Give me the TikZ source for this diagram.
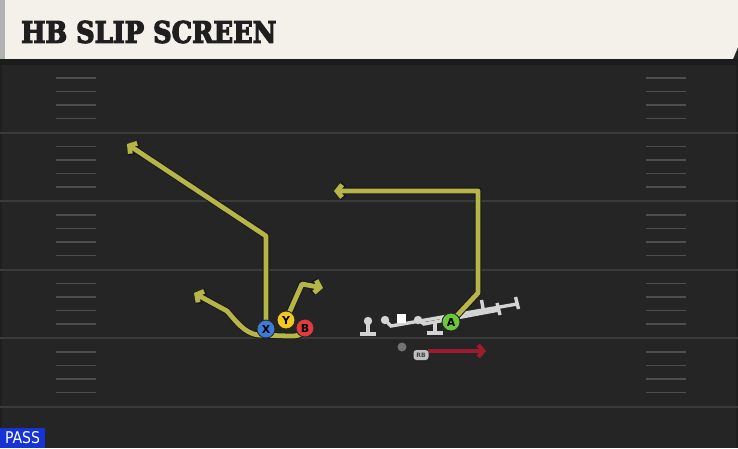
\documentclass[tikz,border=0pt]{standalone}
\usepackage{fontspec}
\setsansfont{DejaVu Sans}
\newfontfamily\playtitlefont{DejaVu Serif Condensed}[BoldFeatures={FakeBold=4}]
\usetikzlibrary{arrows.meta}

\definecolor{fieldbg}{HTML}{252525}
\definecolor{headcream}{HTML}{F4F1EB}
\definecolor{yardcol}{HTML}{3A3A3A}
\definecolor{routeyel}{HTML}{B5B548}
\definecolor{gearcol}{HTML}{D4D4D4}
\definecolor{xblue}{HTML}{3D7BD9}
\definecolor{yyellow}{HTML}{F2C81E}
\definecolor{bred}{HTML}{E13B3E}
\definecolor{agreen}{HTML}{6BC83A}
\definecolor{rbred}{HTML}{9B1B30}
\definecolor{passblue}{HTML}{1633D6}

\tikzset{
  yardline/.style={draw=yardcol, line width=2pt},
  hashmark/.style={draw=yardcol!90!white, line width=1.8pt},
  route/.style={draw=routeyel, line width=4.8pt, line join=round,
    -{Straight Barb[length=5pt, width=12.5pt]},
    preaction={draw=black!90, line width=6.8pt, -{Straight Barb[length=5.6pt, width=14pt]}}},
  player/.style={circle, draw=black!85, line width=0.9pt, minimum size=18pt, inner sep=0pt,
    font=\sffamily\bfseries\fontsize{11}{11}\selectfont},
  gear/.style={draw=gearcol, line width=3.4pt},
}

\begin{document}
\begin{tikzpicture}[x=1pt, y=-1pt]

  \newcommand\LINESTEP{68.5}
  \newcommand\FIELDTOP{64}

  \useasboundingbox (0,0) rectangle (738,448);
  \fill[fieldbg] (0,0) rectangle (738,448);

  % header
  \fill[headcream] (5,0) -- (738,0) -- (738,47) -- (733,59) -- (5,59) -- cycle;
  \fill[black!30] (0,0) rectangle (5,59);
  \fill[black!89] (0,59) rectangle (738,65);
  \node[anchor=west, inner sep=0pt, text=black!88] (title) at (21,32)
    {\resizebox{255pt}{22pt}{\playtitlefont\bfseries HB SLIP SCREEN}};

  % field
  \draw[black!20!fieldbg, line width=2pt] (1,65) -- (1,448);
  \draw[black!20!fieldbg, line width=2pt] (737,65) -- (737,448);
  \foreach \i in {1,...,5}
    \draw[yardline] (0,\FIELDTOP+\LINESTEP*\i) -- (738,\FIELDTOP+\LINESTEP*\i);
  \foreach \i in {0,...,4}
    \foreach \d in {14,27.5,41,54.5} {
      \draw[hashmark] (56,\FIELDTOP+\LINESTEP*\i+\d) -- (96,\FIELDTOP+\LINESTEP*\i+\d);
      \draw[hashmark] (646,\FIELDTOP+\LINESTEP*\i+\d) -- (686,\FIELDTOP+\LINESTEP*\i+\d);
    }

  \coordinate (x) at (266,329);
  \coordinate (y) at (286,320);
  \coordinate (b) at (305,328);
  \coordinate (a) at (451,322);

  % blocking line
  \draw[gear] (368,323) -- (368,333) (360,334) -- (376,334);
  \fill[gearcol] (368,321) circle (4.2pt);
  \draw[gear] (385,320) -- (391,326) -- (517,304) (515.5,297) -- (518.5,309);
  \draw[gear] (418,320) -- (424,324) -- (499,310) (497,303) -- (500,315);
  \draw[gear] (481.5,300) -- (483.5,311);
  \draw[gear] (435,322) -- (435,332) (427,333) -- (443,333);
  \fill[gearcol] (385,320) circle (4.2pt);
  \fill[gearcol] (418,320) circle (4.2pt);
  \fill[white] (397,314) rectangle (406,323);
  \fill[black!55] (402,347) circle (4.5pt);

  % routes
  \draw[route] (x) -- (266,236) -- (127,144);
  \draw[route] (b) .. controls (300,336) .. (288,336) -- (258,335)
    .. controls (244,333) and (236,321) .. (227,311) -- (194,293);
  \draw[route] (y) -- (302,284) -- (323,288);
  \draw[route] (a) -- (478,293) -- (478,191) -- (334,191);
  \draw[rbred, line width=4.2pt, -{Straight Barb[length=5pt, width=12pt]}] (428,351) -- (486,351);

  \node[player, fill=xblue] (X) at (x) {X};
  \node[player, fill=yyellow] (Y) at (y) {Y};
  \node[player, fill=bred] (B) at (b) {B};
  \node[player, fill=agreen] (A) at (a) {A};
  \node[fill=black!25, rounded corners=3pt, minimum width=15pt, minimum height=10pt,
    inner sep=0pt, text=black!75, font=\sffamily\bfseries\fontsize{6}{6}\selectfont]
    (rb) at (421,355) {RB};

  % play type
  \fill[passblue] (0,428) rectangle (45,448);
  \node[text=white, inner sep=0pt] (pass) at (22.5,437.5)
    {\resizebox{35pt}{12pt}{\sffamily PASS}};

\end{tikzpicture}
\end{document}
